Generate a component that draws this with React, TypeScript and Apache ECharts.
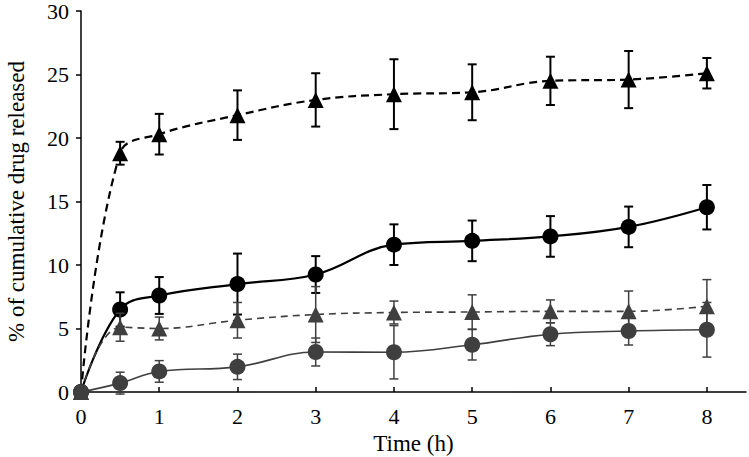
import React, { useEffect, useRef } from "react";
import * as echarts from "echarts";

const times = [0, 0.5, 1, 2, 3, 4, 5, 6, 7, 8];
const blackTriMean = [0, 18.8, 20.3, 21.8, 23.0, 23.45, 23.6, 24.5, 24.6, 25.1];
const blackTriSd = [0, 0.9, 1.6, 1.95, 2.1, 2.75, 2.2, 1.9, 2.25, 1.2];
const blackCirMean = [0, 6.5, 7.6, 8.5, 9.25, 11.6, 11.9, 12.25, 13.0, 14.55];
const blackCirSd = [0, 1.35, 1.45, 2.4, 1.45, 1.6, 1.6, 1.6, 1.6, 1.75];
const grayTriMean = [0, 5.1, 5.0, 5.65, 6.1, 6.26, 6.3, 6.35, 6.35, 6.75];
const grayTriSd = [0, 1.1, 0.9, 1.4, 2.2, 0.9, 1.35, 0.9, 1.6, 2.1];
const grayCirMean = [0, 0.7, 1.62, 1.98, 3.15, 3.13, 3.72, 4.55, 4.8, 4.9];
const grayCirSd = [0, 0.86, 0.85, 1.0, 1.1, 2.1, 1.2, 0.9, 1.1, 2.15];
const xTickLabels = [0, 1, 2, 3, 4, 5, 6, 7, 8];

const FONT = "Liberation Serif, Times New Roman, serif";
const GRAY = "#3f3f3f";

function pts(mean: number[]) {
  return times.map((t, i) => [t, mean[i]]);
}
function errs(mean: number[], sd: number[]) {
  return times
    .map((t, i) => [t, mean[i] - sd[i], mean[i] + sd[i]])
    .filter((d, i) => sd[i] > 0);
}

function errorSeries(mean: number[], sd: number[], color: string, width: number, z: number) {
  return {
    type: "custom",
    data: errs(mean, sd),
    z,
    silent: true,
    renderItem: (params: any, api: any) => {
      const x = api.value(0);
      const lo = api.coord([x, api.value(1)]);
      const hi = api.coord([x, api.value(2)]);
      const cap = 4.5;
      const style = { stroke: color, lineWidth: width };
      return {
        type: "group",
        children: [
          { type: "line", shape: { x1: hi[0], y1: hi[1], x2: lo[0], y2: lo[1] }, style },
          { type: "line", shape: { x1: hi[0] - cap, y1: hi[1], x2: hi[0] + cap, y2: hi[1] }, style },
          { type: "line", shape: { x1: lo[0] - cap, y1: lo[1], x2: lo[0] + cap, y2: lo[1] }, style },
        ],
      };
    },
  };
}

function lineSeries(mean: number[], color: string, symbol: string, dash: number[] | null, width: number, z: number) {
  return {
    type: "line",
    data: pts(mean),
    smooth: 0.4,
    z,
    symbol,
    symbolSize: 16,
    showSymbol: true,
    lineStyle: { color, width, type: dash ? dash : "solid" },
    itemStyle: { color, borderColor: color, borderWidth: 0 },
  };
}

export default function App() {
  const ref = useRef<HTMLDivElement>(null);
  useEffect(() => {
    if (!ref.current) return;
    const chart = echarts.init(ref.current, undefined, { renderer: "svg" });
    chart.setOption({
      animation: false,
      backgroundColor: "#ffffff",
      textStyle: { fontFamily: FONT },
      grid: { left: 81, right: 3, top: 11, bottom: 65, containLabel: false, outerBoundsMode: "none" },
      xAxis: {
        type: "value",
        min: 0,
        max: 8.5,
        interval: 1,
        name: "Time (h)",
        nameLocation: "middle",
        nameGap: 36,
        nameTextStyle: { fontFamily: FONT, fontSize: 23, color: "#000" },
        axisLine: { lineStyle: { color: "#000", width: 1.5 } },
        axisTick: { inside: true, length: 5, lineStyle: { color: "#000", width: 1.5 }, customValues: [1, 2, 3, 4, 5, 6, 7, 8] },
        axisLabel: { fontFamily: FONT, fontSize: 22, color: "#000", margin: 13, customValues: xTickLabels, formatter: (v: number) => String(v) },
        splitLine: { show: false },
      },
      yAxis: {
        type: "value",
        min: 0,
        max: 30,
        interval: 5,
        name: "% of cumulative drug released",
        nameLocation: "middle",
        nameGap: 53,
        nameTextStyle: { fontFamily: FONT, fontSize: 23, color: "#000" },
        axisLine: { show: true, lineStyle: { color: "#000", width: 1.5 } },
        axisTick: { show: true, inside: false, length: 5, lineStyle: { color: "#000", width: 1.5 } },
        axisLabel: { fontFamily: FONT, fontSize: 22, lineHeight: 18, color: "#000", margin: 12 },
        splitLine: { show: false },
      },
      series: [
        errorSeries(blackTriMean, blackTriSd, "#000", 2, 2),
        lineSeries(blackTriMean, "#000", "triangle", [8, 5], 2.2, 3),
        errorSeries(blackCirMean, blackCirSd, "#000", 2, 4),
        lineSeries(blackCirMean, "#000", "circle", null, 2.2, 5),
        errorSeries(grayCirMean, grayCirSd, GRAY, 1.5, 6),
        lineSeries(grayCirMean, GRAY, "circle", null, 1.6, 7),
        errorSeries(grayTriMean, grayTriSd, GRAY, 1.5, 8),
        lineSeries(grayTriMean, GRAY, "triangle", [7, 5], 1.6, 9),
      ],
    });
    return () => chart.dispose();
  }, []);
  return <div ref={ref} style={{ width: 749, height: 457, position: "absolute", left: 0, top: 0 }} />;
}
